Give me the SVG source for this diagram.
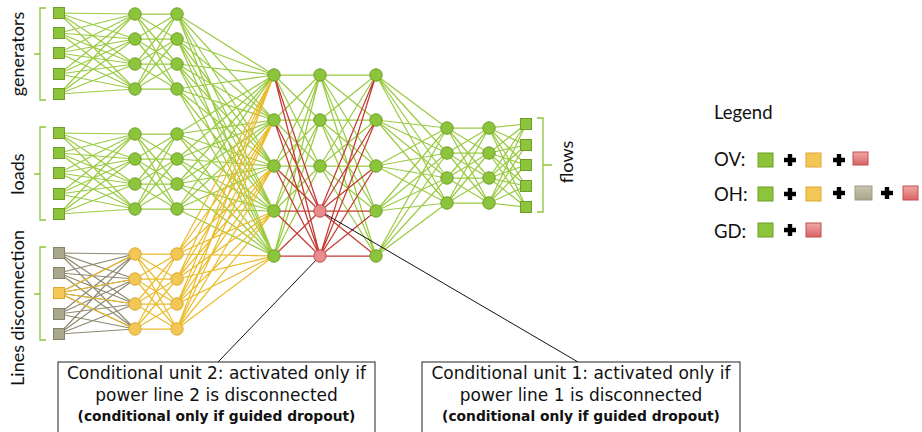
<svg xmlns="http://www.w3.org/2000/svg" width="922" height="432" viewBox="0 0 922 432">
<style>
.g{fill:#8cc43c;stroke:#6e9e28;stroke-width:1}
.y{fill:#f3c756;stroke:#dca72c;stroke-width:1}
.gr{fill:#aba78d;stroke:#86826a;stroke-width:1}
.r{fill:#e68c8c;stroke:#c24e4c;stroke-width:1}
.e{fill:none;stroke-width:1.25}
.eg{stroke:#9bcb44}
.ey{stroke:#eabc2c}
.egr{stroke:#8f8a70}
.er{stroke:#c33a33}
.br{fill:none;stroke:#8cc43c;stroke-width:1.3}
.lab{font-family:Lato,"Open Sans",sans-serif;font-size:18px;fill:#111}
.leg{font-family:Lato,"Open Sans",sans-serif;font-size:18.5px;fill:#111}
.box{fill:#fff;stroke:#222;stroke-width:1}
.bt{font-family:"DejaVu Sans",Verdana,sans-serif;font-size:17px;fill:#111;text-anchor:middle}
.bb{font-family:"DejaVu Sans",Verdana,sans-serif;font-size:13.8px;font-weight:bold;fill:#111;text-anchor:middle}
.plus{stroke:#000;stroke-width:4.4;fill:none}
.call{stroke:#111;stroke-width:1;fill:none}
</style>
<defs>
<path id="l12" d="M59 13L135 14M59 13L135 39M59 13L135 64M59 13L135 89M59 33L135 14M59 33L135 39M59 33L135 64M59 33L135 89M59 53L135 14M59 53L135 39M59 53L135 64M59 53L135 89M59 74L135 14M59 74L135 39M59 74L135 64M59 74L135 89M59 94L135 14M59 94L135 39M59 94L135 64M59 94L135 89"/>
<path id="l23" d="M135 14L177 14M135 14L177 39M135 14L177 64M135 14L177 89M135 39L177 14M135 39L177 39M135 39L177 64M135 39L177 89M135 64L177 14M135 64L177 39M135 64L177 64M135 64L177 89M135 89L177 14M135 89L177 39M135 89L177 64M135 89L177 89"/>
<linearGradient id="rg" x1="0" y1="0" x2="0" y2="1"><stop offset="0" stop-color="#f0a8a8"/><stop offset="1" stop-color="#d86464"/></linearGradient>
<linearGradient id="gg" x1="0" y1="0" x2="0" y2="1"><stop offset="0" stop-color="#c9c6b0"/><stop offset="1" stop-color="#a9a58b"/></linearGradient>
</defs>
<rect width="922" height="432" fill="#fff"/>
<g id="connectors">
<g class="e eg">
<use href="#l12"/><use href="#l23"/>
<use href="#l12" transform="translate(0,120)"/><use href="#l23" transform="translate(0,120)"/>
<path d="M177 14L274 75M177 14L274 120M177 14L274 166M177 14L274 211M177 14L274 256M177 39L274 75M177 39L274 120M177 39L274 166M177 39L274 211M177 39L274 256M177 64L274 75M177 64L274 120M177 64L274 166M177 64L274 211M177 64L274 256M177 89L274 75M177 89L274 120M177 89L274 166M177 89L274 211M177 89L274 256"/>
<path d="M177 134L274 75M177 134L274 120M177 134L274 166M177 134L274 211M177 134L274 256M177 159L274 75M177 159L274 120M177 159L274 166M177 159L274 211M177 159L274 256M177 184L274 75M177 184L274 120M177 184L274 166M177 184L274 211M177 184L274 256M177 209L274 75M177 209L274 120M177 209L274 166M177 209L274 211M177 209L274 256"/>
<path d="M274 75L320 75M274 75L320 120M274 75L320 166M274 120L320 75M274 120L320 120M274 120L320 166M274 166L320 75M274 166L320 120M274 166L320 166M274 211L320 75M274 211L320 120M274 211L320 166M274 256L320 75M274 256L320 120M274 256L320 166"/>
<path d="M320 75L376 75M320 75L376 120M320 75L376 166M320 75L376 211M320 75L376 256M320 120L376 75M320 120L376 120M320 120L376 166M320 120L376 211M320 120L376 256M320 166L376 75M320 166L376 120M320 166L376 166M320 166L376 211M320 166L376 256"/>
<path d="M376 75L447 128M376 75L447 153M376 75L447 178M376 75L447 203M376 120L447 128M376 120L447 153M376 120L447 178M376 120L447 203M376 166L447 128M376 166L447 153M376 166L447 178M376 166L447 203M376 211L447 128M376 211L447 153M376 211L447 178M376 211L447 203M376 256L447 128M376 256L447 153M376 256L447 178M376 256L447 203"/>
<path d="M447 128L489 128M447 128L489 153M447 128L489 178M447 128L489 203M447 153L489 128M447 153L489 153M447 153L489 178M447 153L489 203M447 178L489 128M447 178L489 153M447 178L489 178M447 178L489 203M447 203L489 128M447 203L489 153M447 203L489 178M447 203L489 203"/>
<path d="M489 128L526 124M489 128L526 145M489 128L526 165M489 128L526 186M489 128L526 207M489 153L526 124M489 153L526 145M489 153L526 165M489 153L526 186M489 153L526 207M489 178L526 124M489 178L526 145M489 178L526 165M489 178L526 186M489 178L526 207M489 203L526 124M489 203L526 145M489 203L526 165M489 203L526 186M489 203L526 207"/>
</g>
<g class="e egr"><use href="#l12" transform="translate(0,240)"/></g>
<g class="e ey">
<path d="M59 293L135 254M59 293L135 279M59 293L135 304M59 293L135 329"/>
<use href="#l23" transform="translate(0,240)"/>
<path d="M177 254L274 75M177 254L274 120M177 254L274 166M177 254L274 211M177 254L274 256M177 279L274 75M177 279L274 120M177 279L274 166M177 279L274 211M177 279L274 256M177 304L274 75M177 304L274 120M177 304L274 166M177 304L274 211M177 304L274 256M177 329L274 75M177 329L274 120M177 329L274 166M177 329L274 211M177 329L274 256"/>
</g>
<g class="e er">
<path d="M274 75L320 211M274 75L320 256M274 120L320 211M274 120L320 256M274 166L320 211M274 166L320 256M274 211L320 211M274 211L320 256M274 256L320 211M274 256L320 256"/>
<path d="M320 211L376 75M320 211L376 120M320 211L376 166M320 211L376 211M320 211L376 256M320 256L376 75M320 256L376 120M320 256L376 166M320 256L376 211M320 256L376 256"/>
</g>
<path class="call" d="M320 211L578 362M320 256L218 362"/>
</g>
<g id="brackets">
<path class="br" d="M46 8H40V100H46M40 54H34"/>
<path class="br" d="M46 127H40V220H46M40 174H34"/>
<path class="br" d="M46 247H40V340H46M40 294H34"/>
<path class="br" d="M537 118H543V212H537M543 165H552"/>
</g>
<g id="labels">
<text class="lab" transform="translate(24,54) rotate(-90)" text-anchor="middle">generators</text>
<text class="lab" transform="translate(24,174) rotate(-90)" text-anchor="middle">loads</text>
<text class="lab" transform="translate(24,308) rotate(-90)" text-anchor="middle">Lines disconnection</text>
<text class="lab" transform="translate(573,162) rotate(-90)" text-anchor="middle">flows</text>
</g>
<g id="in-gen">
<rect class="g" x="53.5" y="7.5" width="11" height="11"/>
<rect class="g" x="53.5" y="27.5" width="11" height="11"/>
<rect class="g" x="53.5" y="47.5" width="11" height="11"/>
<rect class="g" x="53.5" y="68.5" width="11" height="11"/>
<rect class="g" x="53.5" y="88.5" width="11" height="11"/>
</g>
<g id="in-loads">
<rect class="g" x="53.5" y="127.5" width="11" height="11"/>
<rect class="g" x="53.5" y="147.5" width="11" height="11"/>
<rect class="g" x="53.5" y="167.5" width="11" height="11"/>
<rect class="g" x="53.5" y="188.5" width="11" height="11"/>
<rect class="g" x="53.5" y="208.5" width="11" height="11"/>
</g>
<g id="in-lines">
<rect class="gr" x="53.5" y="247.5" width="11" height="11"/>
<rect class="gr" x="53.5" y="267.5" width="11" height="11"/>
<rect class="y" x="53.5" y="287.5" width="11" height="11"/>
<rect class="gr" x="53.5" y="308.5" width="11" height="11"/>
<rect class="gr" x="53.5" y="328.5" width="11" height="11"/>
</g>
<g id="h1">
<circle class="g" cx="135" cy="14" r="6.2"/><circle class="g" cx="135" cy="39" r="6.2"/><circle class="g" cx="135" cy="64" r="6.2"/><circle class="g" cx="135" cy="89" r="6.2"/>
<circle class="g" cx="135" cy="134" r="6.2"/><circle class="g" cx="135" cy="159" r="6.2"/><circle class="g" cx="135" cy="184" r="6.2"/><circle class="g" cx="135" cy="209" r="6.2"/>
<circle class="y" cx="135" cy="254" r="6.2"/><circle class="y" cx="135" cy="279" r="6.2"/><circle class="y" cx="135" cy="304" r="6.2"/><circle class="y" cx="135" cy="329" r="6.2"/>
</g>
<g id="h2">
<circle class="g" cx="177" cy="14" r="6.2"/><circle class="g" cx="177" cy="39" r="6.2"/><circle class="g" cx="177" cy="64" r="6.2"/><circle class="g" cx="177" cy="89" r="6.2"/>
<circle class="g" cx="177" cy="134" r="6.2"/><circle class="g" cx="177" cy="159" r="6.2"/><circle class="g" cx="177" cy="184" r="6.2"/><circle class="g" cx="177" cy="209" r="6.2"/>
<circle class="y" cx="177" cy="254" r="6.2"/><circle class="y" cx="177" cy="279" r="6.2"/><circle class="y" cx="177" cy="304" r="6.2"/><circle class="y" cx="177" cy="329" r="6.2"/>
</g>
<g id="h3">
<circle class="g" cx="274" cy="75" r="6.2"/><circle class="g" cx="274" cy="120" r="6.2"/><circle class="g" cx="274" cy="166" r="6.2"/><circle class="g" cx="274" cy="211" r="6.2"/><circle class="g" cx="274" cy="256" r="6.2"/>
</g>
<g id="h4">
<circle class="g" cx="320" cy="75" r="6.2"/><circle class="g" cx="320" cy="120" r="6.2"/><circle class="g" cx="320" cy="166" r="6.2"/>
</g>
<g id="cond-unit-1"><circle class="r" cx="320" cy="211" r="6.2"/></g>
<g id="cond-unit-2"><circle class="r" cx="320" cy="256" r="6.2"/></g>
<g id="h5">
<circle class="g" cx="376" cy="75" r="6.2"/><circle class="g" cx="376" cy="120" r="6.2"/><circle class="g" cx="376" cy="166" r="6.2"/><circle class="g" cx="376" cy="211" r="6.2"/><circle class="g" cx="376" cy="256" r="6.2"/>
</g>
<g id="h6">
<circle class="g" cx="447" cy="128" r="6.2"/><circle class="g" cx="447" cy="153" r="6.2"/><circle class="g" cx="447" cy="178" r="6.2"/><circle class="g" cx="447" cy="203" r="6.2"/>
</g>
<g id="h7">
<circle class="g" cx="489" cy="128" r="6.2"/><circle class="g" cx="489" cy="153" r="6.2"/><circle class="g" cx="489" cy="178" r="6.2"/><circle class="g" cx="489" cy="203" r="6.2"/>
</g>
<g id="out-flows">
<rect class="g" x="520.5" y="118.5" width="11" height="11"/>
<rect class="g" x="520.5" y="139.5" width="11" height="11"/>
<rect class="g" x="520.5" y="159.5" width="11" height="11"/>
<rect class="g" x="520.5" y="180.5" width="11" height="11"/>
<rect class="g" x="520.5" y="201.5" width="11" height="11"/>
</g>
<g id="box-2">
<rect class="box" x="58" y="362" width="317" height="80"/>
<text class="bt" x="216.5" y="379">Conditional unit 2: activated only if</text>
<text class="bt" x="216.5" y="401">power line 2 is disconnected</text>
<text class="bb" x="216.5" y="421">(conditional only if guided dropout)</text>
</g>
<g id="box-1">
<rect class="box" x="422" y="362" width="318" height="80"/>
<text class="bt" x="581" y="379">Conditional unit 1: activated only if</text>
<text class="bt" x="581" y="401">power line 1 is disconnected</text>
<text class="bb" x="581" y="421">(conditional only if guided dropout)</text>
</g>
<g id="legend">
<text class="leg" x="714" y="119">Legend</text>
<text class="leg" x="714" y="166">OV:</text>
<rect class="g" x="758" y="153" width="15" height="14"/>
<path class="plus" d="M784 160h12M790 154v12"/>
<rect class="y" x="806" y="153" width="15" height="14"/>
<path class="plus" d="M833 160h12M839 154v12"/>
<rect x="853" y="152" width="15" height="13" fill="url(#rg)" stroke="#c24e4c"/>
<text class="leg" x="714" y="201">OH:</text>
<rect class="g" x="758" y="187" width="15" height="14"/>
<path class="plus" d="M784 194h12M790 188v12"/>
<rect class="y" x="806" y="187" width="15" height="14"/>
<path class="plus" d="M833 193h12M839 187v12"/>
<rect x="855" y="186" width="17" height="14" fill="url(#gg)" stroke="#a09c82"/>
<path class="plus" d="M881 193h12M887 187v12"/>
<rect x="903" y="186" width="15" height="14" fill="url(#rg)" stroke="#c24e4c"/>
<text class="leg" x="714" y="238">GD:</text>
<rect class="g" x="758" y="223" width="15" height="14"/>
<path class="plus" d="M784 230h12M790 224v12"/>
<rect x="806" y="223" width="15" height="14" fill="url(#rg)" stroke="#c24e4c"/>
</g>
</svg>
